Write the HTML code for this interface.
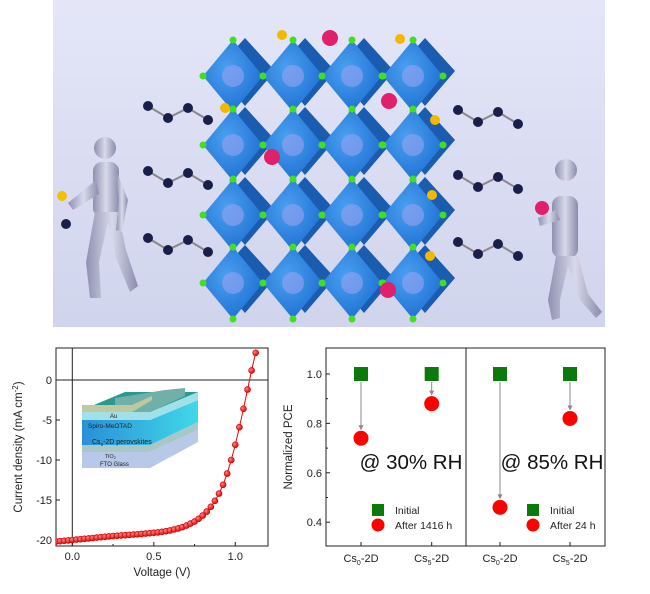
<!DOCTYPE html>
<html><head><meta charset="utf-8"><style>
html,body{margin:0;padding:0;background:#fff;width:650px;height:594px;overflow:hidden}
svg text{font-family:"Liberation Sans",Arial,sans-serif}
</style></head><body>
<svg id="root" width="650" height="594" viewBox="0 0 650 594" xmlns="http://www.w3.org/2000/svg">
<defs>
<linearGradient id="bg" x1="0" y1="0" x2="0" y2="1"><stop offset="0" stop-color="#e4e6f8"/><stop offset="1" stop-color="#d0d4ec"/></linearGradient>
<radialGradient id="oct" cx="0.4" cy="0.4" r="0.7"><stop offset="0" stop-color="#4aa0f0"/><stop offset="1" stop-color="#1a6cd0"/></radialGradient>
<radialGradient id="rs" cx="0.35" cy="0.35" r="0.7"><stop offset="0" stop-color="#ff8080"/><stop offset="1" stop-color="#e00000"/></radialGradient>
<linearGradient id="fig" x1="0" y1="0" x2="1" y2="0"><stop offset="0" stop-color="#8e90b0"/><stop offset="0.5" stop-color="#d8d9ea"/><stop offset="1" stop-color="#8a8cac"/></linearGradient>
<linearGradient id="perov" x1="0" y1="0" x2="1" y2="0"><stop offset="0" stop-color="#2a8fd8"/><stop offset="1" stop-color="#40d8e8"/></linearGradient>
</defs>

<g>
<rect x="53" y="0" width="552" height="327" fill="url(#bg)"/>
<g id="crystal"></g>
<g fill="url(#fig)">
<circle cx="105" cy="148" r="11"/>
<rect x="93" y="162" width="26" height="55" rx="9"/>
<path d="M95 212 L86 262 L90 298 L101 298 L99 262 L108 222 L116 258 L130 292 L138 286 L126 250 L118 212Z"/>
<path d="M96 180 L68 203 L73 210 L99 194Z"/>
<path d="M116 170 L128 200 L122 232 L116 230 L119 200Z"/>
<circle cx="62" cy="196" r="5" fill="#f5c000"/><circle cx="66" cy="224" r="5" fill="#1a1f4a"/>
</g>
<g fill="url(#fig)">
<circle cx="566" cy="170" r="11"/>
<rect x="552" y="196" width="26" height="62" rx="9"/>
<path d="M556 256 L548 300 L552 320 L560 318 L560 300 L568 266 L580 300 L596 318 L602 312 L588 294 L578 256Z"/>
<path d="M556 210 L538 218 L540 226 L560 220Z"/>
<circle cx="542" cy="208" r="7" fill="#e0206a"/>
</g>
</g>

<g>
<rect x="56" y="348" width="212" height="198" fill="none" stroke="#222" stroke-width="1"/>
<g id="jvaxes"></g>
<g font-family="Liberation Serif,serif">
<polygon points="82,452 150,452 198,430 198,442 150,468 82,468" fill="#b8c8e8"/>
<polygon points="82,445 150,445 198,422 198,430 150,452 82,452" fill="#a8c8c8"/>
<polygon points="82,420 150,420 198,400 198,422 150,445 82,445" fill="url(#perov)"/>
<polygon points="82,412 150,412 198,392 198,400 150,420 82,420" fill="#a0e0e8"/>
<polygon points="82,412 150,412 198,392 150,392 125,392 82,410" fill="#2a9a90"/>
<polygon points="115,398 165,390 185,388 185,396 150,412 115,412" fill="#70b0a8"/>
<polygon points="82,405 132,405 152,396 152,400 132,412 82,412" fill="#c0c8a0"/>
<text x="110" y="418" font-size="6" fill="#222">Au</text>
<text x="88" y="428" font-size="6.5" fill="#222">Spiro-MeOTAD</text>
<text x="92" y="444" font-size="7" fill="#222">Cs<tspan font-size="5" dy="2">x</tspan><tspan dy="-2">-2D perovskites</tspan></text>
<text x="105" y="458" font-size="5.5" fill="#222">TiO<tspan font-size="4" dy="1">2</tspan></text>
<text x="100" y="466" font-size="6" fill="#222">FTO Glass</text>
</g>
<g id="jvdata"></g>
<text transform="translate(22,447) rotate(-90)" text-anchor="middle" font-size="11.5" fill="#222">Current density (mA cm<tspan font-size="8" dy="-4">-2</tspan><tspan dy="4">)</tspan></text>
<text x="162" y="576" text-anchor="middle" font-size="11.5" fill="#222">Voltage (V)</text>
</g>

<g>
<rect x="326" y="348" width="140" height="198" fill="none" stroke="#222"/>
<rect x="466" y="348" width="139" height="198" fill="none" stroke="#222"/>
<g id="pceaxes"></g>
<g id="pcedata"></g>
<text transform="translate(292,447) rotate(-90)" text-anchor="middle" font-size="11.5" fill="#222">Normalized PCE</text>
<text x="411" y="469" text-anchor="middle" font-size="20.5" fill="#111">@ 30% RH</text>
<text x="552" y="469" text-anchor="middle" font-size="20.5" fill="#111">@ 85% RH</text>
<g>
<rect x="372" y="504" width="12" height="12" fill="#0a7a0a"/><circle cx="378" cy="525" r="6.5" fill="#f00"/>
<text x="395" y="514" font-size="10.5" fill="#222">Initial</text><text x="395" y="529" font-size="10.5" fill="#222">After 1416 h</text>
</g>
<g>
<rect x="527" y="504" width="12" height="12" fill="#0a7a0a"/><circle cx="533" cy="525" r="6.5" fill="#f00"/>
<text x="550" y="514" font-size="10.5" fill="#222">Initial</text><text x="550" y="529" font-size="10.5" fill="#222">After 24 h</text>
</g>
</g>
</svg>
<script>
// JV data
const jvVoltage=[-0.1,-0.075,-0.05,-0.025,0,0.025,0.05,0.075,0.1,0.125,0.15,0.175,0.2,0.225,0.25,0.275,0.3,0.325,0.35,0.375,0.4,0.425,0.45,0.475,0.5,0.525,0.55,0.575,0.6,0.625,0.65,0.675,0.7,0.725,0.75,0.775,0.8,0.825,0.85,0.875,0.9,0.925,0.95,0.975,1.0,1.025,1.05,1.075,1.1,1.125];
const jvCurrent=[-20.2,-20.15,-20.1,-20.05,-20.0,-19.95,-19.9,-19.85,-19.8,-19.75,-19.7,-19.65,-19.6,-19.55,-19.5,-19.47,-19.43,-19.4,-19.36,-19.32,-19.28,-19.24,-19.2,-19.15,-19.1,-19.05,-18.98,-18.9,-18.8,-18.68,-18.55,-18.4,-18.2,-17.95,-17.7,-17.35,-16.95,-16.45,-15.85,-15.1,-14.2,-13.1,-11.7,-10.0,-8.1,-5.9,-3.6,-1.2,1.2,3.4];
const jvXTicks=[0.0,0.5,1.0];
const jvXTickLabels=["0.0","0.5","1.0"];
const jvYTicks=[0,-5,-10,-15,-20];
const jvYTickLabels=["0","-5","-10","-15","-20"];
// PCE data
const pceCategories=["Cs0-2D","Cs5-2D","Cs0-2D","Cs5-2D"];
const pceInitial=[1.0,1.0,1.0,1.0];
const pceAfter=[0.74,0.88,0.46,0.82];
const pceYTicks=[0.4,0.6,0.8,1.0];
const pceYTickLabels=["0.4","0.6","0.8","1.0"];

const NS="http://www.w3.org/2000/svg";
function mk(tag,attrs,parent){const e=document.createElementNS(NS,tag);for(const k in attrs)e.setAttribute(k,attrs[k]);parent.appendChild(e);return e;}

// JV axes
const jx=v=>72.3+(v-0)*163;
const jy=j=>380-j*8;
const ja=document.getElementById('jvaxes');
let l=mk('line',{x1:56,x2:268,y1:jy(0),y2:jy(0),stroke:'#222'},ja);


l=mk('line',{x1:jx(0),x2:jx(0),y1:348,y2:546,stroke:'#222'},ja);


jvXTicks.forEach((v,i)=>{
 mk('line',{x1:jx(v),x2:jx(v),y1:546,y2:542,stroke:'#222'},ja);
 const t=mk('text',{x:jx(v),y:560,'text-anchor':'middle','font-size':11,fill:'#222'},ja);t.textContent=jvXTickLabels[i];
 
 
});
[0.25,0.75].forEach(v=>mk('line',{x1:jx(v),x2:jx(v),y1:546,y2:544,stroke:'#222'},ja));
jvYTicks.forEach((v,i)=>{
 mk('line',{x1:56,x2:60,y1:jy(v),y2:jy(v),stroke:'#222'},ja);
 const t=mk('text',{x:52,y:jy(v)+4,'text-anchor':'end','font-size':11,fill:'#222'},ja);t.textContent=jvYTickLabels[i];
 
 
});
const jd=document.getElementById('jvdata');
const clip=mk('clipPath',{id:'jvclip'},jd);mk('rect',{x:56,y:348,width:212,height:198},clip);
const g=mk('g',{'clip-path':'url(#jvclip)'},jd);
const pl=mk('polyline',{points:jvVoltage.map((v,i)=>jx(v)+','+jy(jvCurrent[i])).join(' '),fill:'none',stroke:'#e00',"stroke-width":1},g);


jvVoltage.forEach((v,i)=>{
 const c=mk('circle',{cx:jx(v),cy:jy(jvCurrent[i]),r:3,fill:'url(#rs)',stroke:'#c00','stroke-width':0.6},g);
 
 
});

// PCE
const catX=[361,431.7,500,570];
const py=v=>374+(1.0-v)*247;
const pa=document.getElementById('pceaxes');
pceYTicks.forEach((v,i)=>{
 mk('line',{x1:326,x2:330,y1:py(v),y2:py(v),stroke:'#222'},pa);
 const t=mk('text',{x:322,y:py(v)+4,'text-anchor':'end','font-size':11,fill:'#222'},pa);t.textContent=pceYTickLabels[i];
 
 
});
[0.5,0.7,0.9].forEach(v=>mk('line',{x1:326,x2:328,y1:py(v),y2:py(v),stroke:'#222'},pa));
pceCategories.forEach((c,i)=>{
 mk('line',{x1:catX[i],x2:catX[i],y1:546,y2:542,stroke:'#222'},pa);
 const t=mk('text',{x:catX[i],y:562,'text-anchor':'middle','font-size':11,fill:'#222'},pa);
 t.innerHTML=c.slice(0,2)+'<tspan font-size="7" dy="3">'+c.slice(2,3)+'</tspan><tspan dy="-3">'+c.slice(3)+'</tspan>';
 
 
});
const pd=document.getElementById('pcedata');
pceCategories.forEach((c,i)=>{
 const x=catX[i],y0=py(pceInitial[i]),y1=py(pceAfter[i]);
 const ar=mk('line',{x1:x,x2:x,y1:y0+8,y2:y1-10,stroke:'#888','stroke-width':1},pd);
 
 
 mk('polygon',{points:`${x-2.5},${y1-13} ${x+2.5},${y1-13} ${x},${y1-8}`,fill:'#888'},pd);
 const s=mk('rect',{x:x-7,y:y0-7,width:14,height:14,fill:'#0a7a0a'},pd);
 
 
 const ci=mk('circle',{cx:x,cy:y1,r:7.5,fill:'#f00'},pd);
 
 
});

// crystal illustration
const cr=document.getElementById('crystal');
const colsX=[233,293,352,413],rowsY=[76,145,215,283];
// chains
[[148,106],[148,171],[148,238]].forEach(([x,y])=>{
 const pts=[[x,y],[x+20,y+12],[x+40,y+2],[x+60,y+14]];
 mk('polyline',{points:pts.map(p=>p.join(',')).join(' '),fill:'none',stroke:'#888','stroke-width':2},cr);
 pts.forEach(p=>mk('circle',{cx:p[0],cy:p[1],r:5,fill:'#1a1f4a'},cr));
 const pts2=pts.map(p=>[p[0]+310,p[1]+4]);
 mk('polyline',{points:pts2.map(p=>p.join(',')).join(' '),fill:'none',stroke:'#888','stroke-width':2},cr);
 pts2.forEach(p=>mk('circle',{cx:p[0],cy:p[1],r:5,fill:'#1a1f4a'},cr));
});
rowsY.forEach(y=>colsX.forEach(x=>{
 mk('polygon',{points:`${x+12},${y-38} ${x+42},${y-5} ${x+12},${y+30} ${x-18},${y-5}`,fill:'#1a5cb0'},cr);
}));
rowsY.forEach(y=>colsX.forEach(x=>{
 mk('polygon',{points:`${x},${y-36} ${x+30},${y} ${x},${y+36} ${x-30},${y}`,fill:'url(#oct)'},cr);
 mk('circle',{cx:x,cy:y,r:11,fill:'#8aa0f0',opacity:0.7},cr);
 [[0,-36],[30,0],[0,36],[-30,0]].forEach(d=>mk('circle',{cx:x+d[0],cy:y+d[1],r:3.5,fill:'#40e020'},cr));
}));
[[330,38],[389,101],[272,157],[388,290]].forEach(p=>mk('circle',{cx:p[0],cy:p[1],r:8,fill:'#e0206a'},cr));
[[282,35],[400,39],[225,108],[435,120],[432,195],[430,256]].forEach(p=>mk('circle',{cx:p[0],cy:p[1],r:5,fill:'#f5b800'},cr));
</script>
</body></html>
